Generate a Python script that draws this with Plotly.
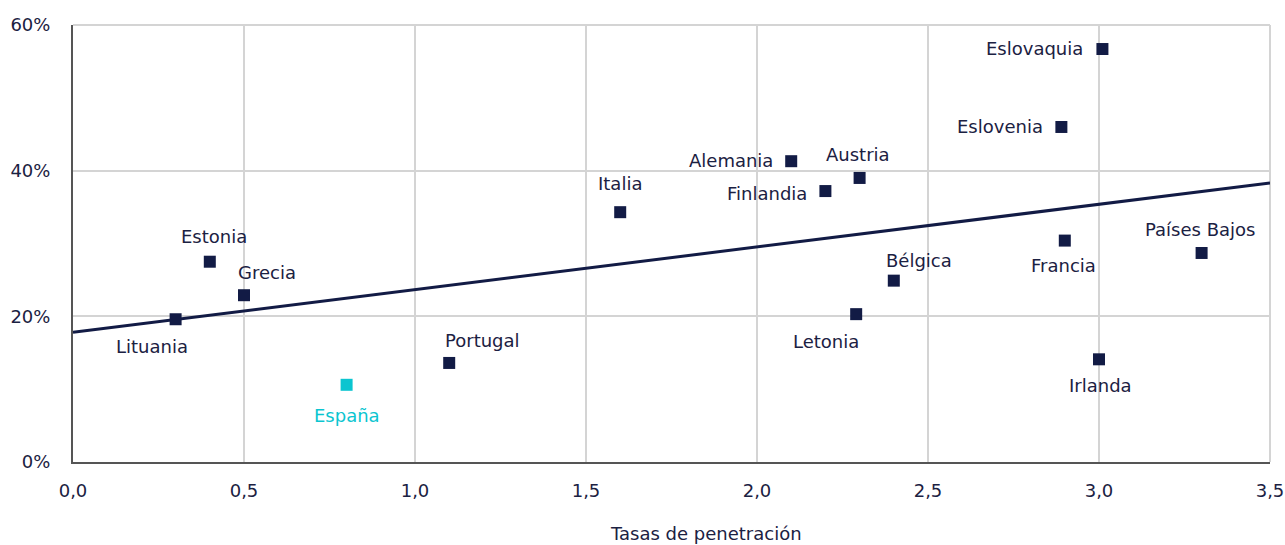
import numpy as np
import plotly.graph_objects as go

countries = ["Lituania", "Estonia", "Grecia", "España", "Portugal", "Italia",
             "Alemania", "Finlandia", "Austria", "Letonia", "Bélgica",
             "Eslovenia", "Eslovaquia", "Francia", "Irlanda", "Países Bajos"]
penetration = [0.30, 0.40, 0.50, 0.80, 1.10, 1.60, 2.10, 2.20, 2.30, 2.29, 2.40,
               2.89, 3.01, 2.90, 3.00, 3.30]
share_pct = [19.6, 27.5, 22.9, 10.6, 13.6, 34.3, 41.3, 37.2, 39.0, 20.3, 24.9,
             46.0, 56.7, 30.4, 14.1, 28.7]
highlight = "España"

x_ticks = [0.0, 0.5, 1.0, 1.5, 2.0, 2.5, 3.0, 3.5]
x_tick_labels = ["0,0", "0,5", "1,0", "1,5", "2,0", "2,5", "3,0", "3,5"]
y_ticks = [0, 20, 40, 60]
y_tick_labels = ["0%", "20%", "40%", "60%"]
x_title = "Tasas de penetración"

NAVY = "#121b45"
TEXT = "#1b2142"
CYAN = "#0bc5d0"
FONT = "DejaVu Sans"

# label placement: (xanchor, yanchor, xshift, yshift)
label_pos = {
    "Lituania": ("center", "middle", -24, -27),
    "Estonia": ("center", "middle", 4, 25),
    "Grecia": ("center", "middle", 23, 23),
    "España": ("center", "middle", 0, -31),
    "Portugal": ("center", "middle", 33, 22),
    "Italia": ("center", "middle", 0, 29),
    "Alemania": ("right", "middle", -16, 1),
    "Finlandia": ("right", "middle", -16, -2),
    "Austria": ("center", "middle", -2, 23),
    "Letonia": ("center", "middle", -30, -27),
    "Bélgica": ("center", "middle", 25, 20),
    "Eslovenia": ("right", "middle", -16, 0),
    "Eslovaquia": ("right", "middle", -17, 1),
    "Francia": ("center", "middle", -1, -25),
    "Irlanda": ("center", "middle", 1, -26),
    "Países Bajos": ("center", "middle", -2, 23),
}

fig = go.Figure()

# trend line (least squares on the data)
slope, intercept = np.polyfit(penetration, share_pct, 1)
xs = np.array([x_ticks[0], x_ticks[-1]])
fig.add_trace(go.Scatter(x=xs, y=intercept + slope * xs, mode="lines",
                         line=dict(color=NAVY, width=3), hoverinfo="skip",
                         showlegend=False, cliponaxis=False))

colors = [CYAN if c == highlight else NAVY for c in countries]
fig.add_trace(go.Scatter(x=penetration, y=share_pct, mode="markers",
                         marker=dict(symbol="square", size=12, color=colors),
                         showlegend=False, hoverinfo="skip"))

for c, xv, yv in zip(countries, penetration, share_pct):
    xa, ya, xsft, ysft = label_pos[c]
    fig.add_annotation(x=xv, y=yv, text=c, showarrow=False, xanchor=xa, yanchor=ya,
                       xshift=xsft, yshift=ysft,
                       font=dict(family=FONT, size=18,
                                 color=CYAN if c == highlight else TEXT))

fig.add_annotation(x=0.529, y=0, xref="paper", yref="paper", yshift=-71,
                   text=x_title, showarrow=False, xanchor="center", yanchor="middle",
                   font=dict(family=FONT, size=18, color=TEXT))

# light border on top and right
fig.add_shape(type="line", xref="paper", yref="paper", x0=0, x1=1, y0=1, y1=1,
              line=dict(color="#d4d4d4", width=2), layer="below")
fig.add_shape(type="line", xref="paper", yref="paper", x0=1, x1=1, y0=0, y1=1,
              line=dict(color="#d4d4d4", width=2), layer="below")

tickfont = dict(family=FONT, size=18, color=TEXT)
fig.update_layout(
    width=1285, height=545,
    margin=dict(l=73, r=15, t=25, b=83),
    paper_bgcolor="white", plot_bgcolor="white",
    font=dict(family=FONT, size=18, color=TEXT),
    xaxis=dict(range=[x_ticks[0], x_ticks[-1]], tickmode="array", tickvals=x_ticks,
               ticktext=x_tick_labels, tickfont=tickfont, automargin=False,
               showgrid=True, gridcolor="#d4d4d4", gridwidth=2,
               showline=True, linecolor="#555555", linewidth=2,
               zeroline=False, ticks="", ticklabelstandoff=11),
    yaxis=dict(range=[y_ticks[0], y_ticks[-1]], tickmode="array", tickvals=y_ticks,
               ticktext=y_tick_labels, tickfont=tickfont, automargin=False,
               showgrid=True, gridcolor="#d4d4d4", gridwidth=2,
               showline=True, linecolor="#555555", linewidth=2,
               zeroline=False, ticks="", ticklabelstandoff=17),
)

fig.write_html("out.html", config={"displayModeBar": False},
               post_script="document.body.style.margin='0';document.body.style.overflow='hidden';")
